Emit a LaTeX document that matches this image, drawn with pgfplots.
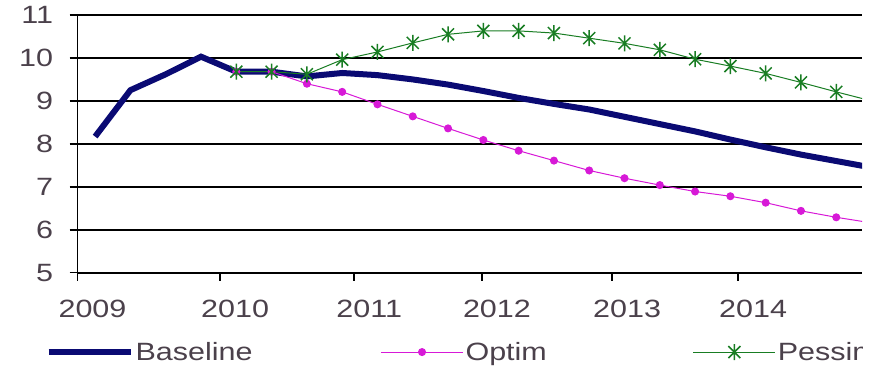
\documentclass[border=0pt]{standalone}
\usepackage{fontspec}
\setmainfont{Liberation Sans}[FakeStretch=1.22]
\usepackage{pgfplots}
\pgfplotsset{compat=1.18}

\definecolor{basenavy}{RGB}{10,10,115}
\definecolor{optmag}{RGB}{215,25,215}
\definecolor{pessgreen}{RGB}{25,125,35}
\definecolor{labelgray}{RGB}{75,65,75}

% star marker: an X crossed by a vertical stroke
\pgfdeclareplotmark{xlstar}{%
  \pgfpathmoveto{\pgfqpoint{-0.75\pgfplotmarksize}{-0.75\pgfplotmarksize}}%
  \pgfpathlineto{\pgfqpoint{0.75\pgfplotmarksize}{0.75\pgfplotmarksize}}%
  \pgfpathmoveto{\pgfqpoint{-0.75\pgfplotmarksize}{0.75\pgfplotmarksize}}%
  \pgfpathlineto{\pgfqpoint{0.75\pgfplotmarksize}{-0.75\pgfplotmarksize}}%
  \pgfpathmoveto{\pgfqpoint{0pt}{-\pgfplotmarksize}}%
  \pgfpathlineto{\pgfqpoint{0pt}{\pgfplotmarksize}}%
  \pgfusepathqstroke}

% quarterly values, index 0 = first quarter shown
\pgfplotstableread{
i  v
0  8.17
1  9.25
2  9.62
3  10.03
4  9.68
5  9.68
6  9.57
7  9.65
8  9.60
9  9.50
10 9.38
11 9.23
12 9.07
13 8.93
14 8.80
15 8.63
16 8.46
17 8.29
18 8.10
19 7.92
20 7.75
21 7.60
22 7.45
}\baseline

\pgfplotstableread{
i  v
4  9.68
5  9.68
6  9.40
7  9.21
8  8.92
9  8.64
10 8.36
11 8.09
12 7.84
13 7.61
14 7.38
15 7.20
16 7.04
17 6.89
18 6.78
19 6.63
20 6.44
21 6.29
22 6.16
}\optim

\pgfplotstableread{
i  v
4  9.68
5  9.68
6  9.62
7  9.96
8  10.14
9  10.35
10 10.55
11 10.63
12 10.63
13 10.58
14 10.46
15 10.34
16 10.19
17 9.97
18 9.81
19 9.64
20 9.43
21 9.21
22 9.00
}\pessi

\begin{document}
\begin{tikzpicture}
\path[use as bounding box] (0,0) rectangle (877pt,367pt);
\clip (0,0) rectangle (862pt,367pt);
\begin{axis}[
  at={(77.5pt,94.3pt)}, anchor=south west,
  scale only axis, width=784.5pt, height=257.7pt,
  xmin=-0.5, xmax=21.73, ymin=5, ymax=11,
  axis lines=left,
  axis line style={-, line width=1.6pt, black},
  tick align=outside,
  xtick pos=bottom, ytick pos=left,
  ytick={5,6,7,8,9,10,11},
  xtick={-0.5,3.54,7.34,10.96,14.65,18.22},
  xticklabels={2009,2010,2011,2012,2013,2014},
  ymajorgrids,
  major grid style={black, line width=1.5pt},
  xtick style={draw=black, line width=1.5pt},
  ytick style={draw=black, line width=1.5pt},
  major tick length=8pt,
  /pgf/number format/assume math mode=true,
  ticklabel style={font=\fontsize{25}{30}\selectfont, text=labelgray},
  xticklabel style={xshift=15pt, yshift=-16pt},
  yticklabel style={xshift=-13pt},
  legend columns=3,
  legend image code/.code={\draw[mark repeat=2,mark phase=2,#1]
      plot coordinates {(0pt,0pt) (41pt,0pt) (82pt,0pt)};},
  legend style={at={(axis description cs:-0.041,-0.308)}, anchor=west,
    draw=none, fill=none, inner sep=0pt,
    font=\fontsize{25}{30}\selectfont, text=labelgray,
    /tikz/column 2/.style={column sep=126pt},
    /tikz/column 4/.style={column sep=144pt}},
]
\addplot[basenavy, line width=6pt, no markers] table[x=i, y=v] {\baseline};
\addlegendentry{Baseline}
\addplot[optmag, line width=1pt, mark=*, mark size=3.5pt,
  mark options={fill=optmag, draw=optmag}] table[x=i, y=v] {\optim};
\addlegendentry{Optim}
\addplot[pessgreen, line width=1pt, mark=xlstar, mark size=8pt,
  mark options={line width=1.5pt}] table[x=i, y=v] {\pessi};
\addlegendentry{Pessimistic}
\end{axis}
\end{tikzpicture}
\end{document}
